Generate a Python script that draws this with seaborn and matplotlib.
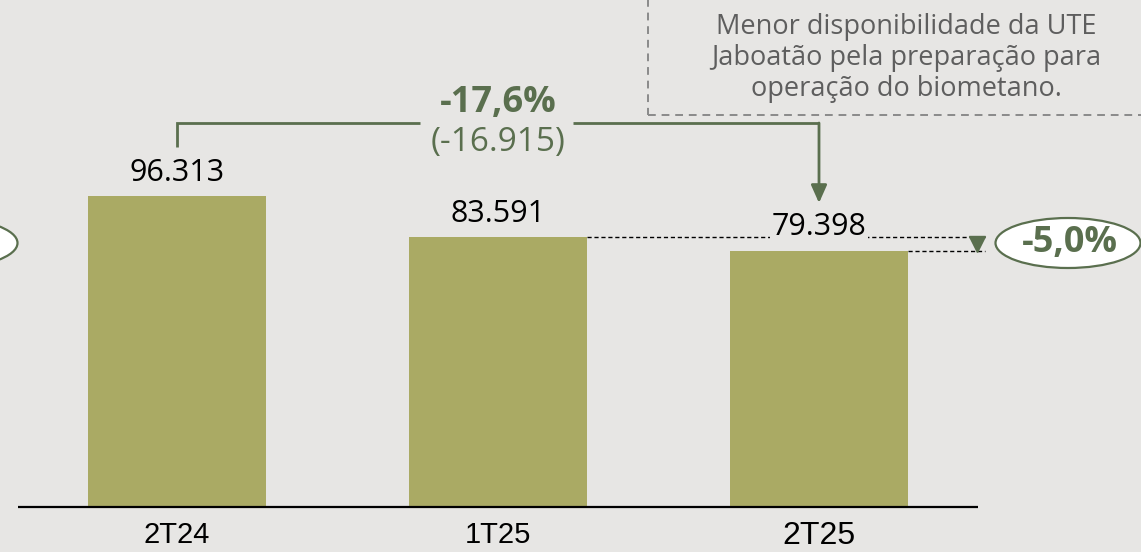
import matplotlib
matplotlib.use("Agg")
import matplotlib.pyplot as plt
from matplotlib.patches import Ellipse, Rectangle
import seaborn as sns
import pandas as pd

# data
periods = ["2T24", "1T25", "2T25"]
values = [96313, 83591, 79398]
note_lines = ["Menor disponibilidade da UTE",
              "Jaboatão pela preparação para",
              "operação do biometano."]

bg = "#E7E6E4"
bar_color = "#AAAA64"
green = "#5A6F4E"


def fmt_thousands(v):
    return "{:,.0f}".format(v).replace(",", ".")


def fmt_pct(p):
    return "{:+.1f}%".format(p).replace(".", ",").replace("+", "")


# layout helpers (pixel -> data)
def px_x(px):
    return (px - 177) / 321


def px_y(py):
    return (507 - py) / 3.229 * 1000


sns.set_theme(style="white")
plt.rcParams["font.family"] = ["Open Sans", "DejaVu Sans"]

fig = plt.figure(figsize=(11.41, 5.52), dpi=100, facecolor=bg)
ax = fig.add_axes([0, 0, 1, 1])
ax.set_facecolor(bg)

df = pd.DataFrame({"period": periods, "value": values})
sns.barplot(data=df, x="period", y="value", color=bar_color, width=0.555,
            saturation=1, linewidth=0, ax=ax)

ax.set_xlim(px_x(0), px_x(1141))
ax.set_ylim(px_y(552), px_y(0))
ax.axis("off")

# baseline
ax.plot([px_x(18), px_x(978)], [0, 0], color="black", lw=1.6,
        solid_capstyle="butt", zorder=3)

# value labels
half = 0.555 / 2
for i, v in enumerate(values):
    ax.annotate(fmt_thousands(v), (i, v), xytext=(0, 16.9),
                textcoords="offset points", ha="center", va="center",
                fontsize=22, color="black", zorder=5,
                bbox=dict(facecolor=bg, edgecolor="none", pad=1))

# category labels
cat_sizes = [21, 21, 23]
cat_y = [535, 535, 536]
for i, p in enumerate(periods):
    ax.text(i, px_y(cat_y[i]), p, ha="center", va="center",
            fontsize=cat_sizes[i], color="black",
            family=["Liberation Sans Narrow", "Liberation Sans", "DejaVu Sans"])

# bracket -17,6%
diff_total = values[2] - values[0]
pct_total = diff_total / values[0] * 100
y_br = px_y(123)
ax.plot([0, 0, px_x(420)], [px_y(147), y_br, y_br], color=green, lw=2,
        solid_capstyle="butt", solid_joinstyle="miter")
ax.plot([px_x(573), 2], [y_br, y_br], color=green, lw=2,
        solid_capstyle="butt")
ax.annotate("", xy=(2, px_y(203)), xytext=(2, y_br),
            arrowprops=dict(arrowstyle="-|>,head_length=0.9,head_width=0.4",
                            color=green, lw=2, shrinkA=0, shrinkB=0))
ax.text(1, px_y(103), fmt_pct(pct_total), ha="center", va="center",
        fontsize=26, fontweight="bold", color=green)
ax.text(1, px_y(143), "(" + fmt_thousands(diff_total) + ")",
        ha="center", va="center", fontsize=24, color=green)

# dashed comparison 1T25 -> 2T25
pct_q = (values[2] - values[1]) / values[1] * 100
ax.plot([1 + half, px_x(985)], [values[1], values[1]], color="black",
        lw=1, ls=(0, (3, 2)), zorder=2)
ax.plot([2 + half, px_x(985)], [values[2], values[2]], color="black",
        lw=1, ls=(0, (3, 2)), zorder=2)
ax.plot([px_x(977)], [(values[1] + values[2]) / 2], marker="v",
        color=green, markersize=11, zorder=4)

ell = Ellipse((px_x(1068), px_y(243)), 145 / 321, 50 / 3.229 * 1000,
              facecolor="white", edgecolor=green, lw=1.6, zorder=4)
ax.add_patch(ell)
ax.text(px_x(1070), px_y(243), fmt_pct(pct_q), ha="center", va="center",
        fontsize=26, fontweight="bold", color=green, zorder=5)

# partially visible ellipse on the left edge
ell_l = Ellipse((px_x(-55), px_y(243)), 145 / 321, 50 / 3.229 * 1000,
                facecolor="white", edgecolor=green, lw=1.6, zorder=4)
ax.add_patch(ell_l)

# note box
ax.add_patch(Rectangle((px_x(648), px_y(115)), px_x(1170) - px_x(648),
                       px_y(-5) - px_y(115), facecolor="none",
                       edgecolor="#8A8A8A", lw=1.4, ls=(0, (4, 3))))
for k, line in enumerate(note_lines):
    ax.text(px_x(906), px_y(27 + 31 * k), line, ha="center", va="center",
            fontsize=19.5, color="#5E5E5E")

plt.savefig("out.png", dpi=100, facecolor=bg)
